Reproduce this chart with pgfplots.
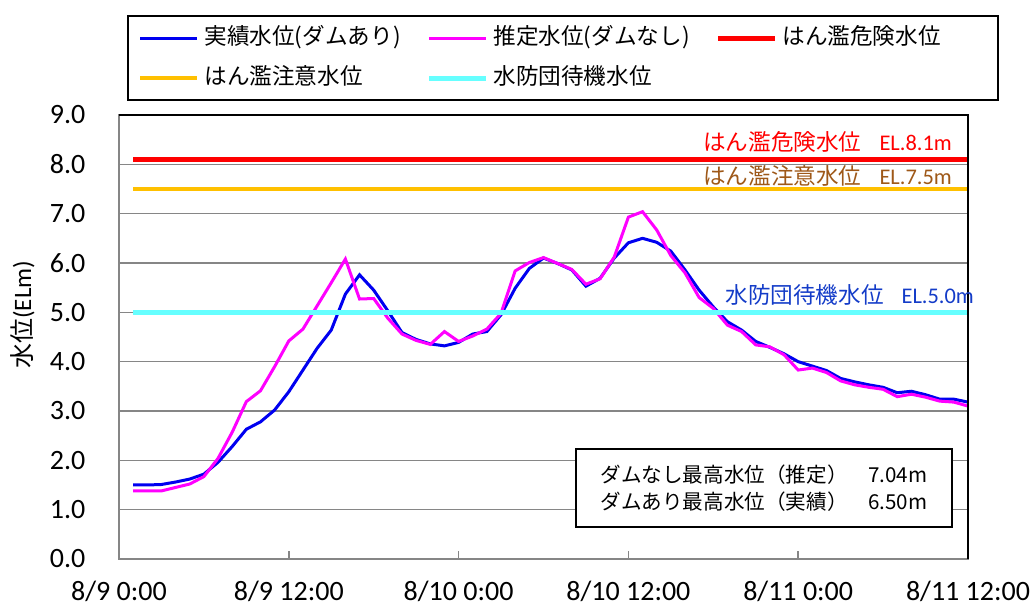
\documentclass[border=0pt]{standalone}
\usepackage{fontspec}
\setmainfont{Carlito}
\newfontfamily\jp{Noto Sans CJK JP}
\usepackage{pgfplots}
\pgfplotsset{compat=1.18}
\definecolor{cblue}{RGB}{0,0,240}
\definecolor{cmag}{RGB}{255,0,255}
\definecolor{cred}{RGB}{255,0,0}
\definecolor{corange}{RGB}{255,192,0}
\definecolor{ccyan}{RGB}{102,255,255}
\definecolor{cgrid}{RGB}{134,134,134}
\definecolor{tbrown}{RGB}{158,88,24}
\definecolor{tblue}{RGB}{20,60,200}
\begin{document}
\begin{tikzpicture}
\useasboundingbox (-59.5pt,-24.5pt) rectangle (458pt,279.5pt);
\begin{axis}[
  at={(0,0)}, anchor=south west,
  scale only axis, width=424.5pt, height=222pt,
  xmin=0, xmax=60, ymin=0, ymax=9,
  xtick={0,12,24,36,48,60},
  xticklabels={8/9 0:00,8/9 12:00,8/10 0:00,8/10 12:00,8/11 0:00,8/11 12:00},
  ytick={0,1,...,9},
  yticklabel={\pgfmathprintnumber[fixed,fixed zerofill,precision=1]{\tick}},
  /pgf/number format/assume math mode=true,
  tick label style={font=\fontsize{14}{16}\selectfont},
  xticklabel style={yshift=-7.5pt},
  yticklabel style={xshift=-13.3pt},
  xtick pos=bottom, ytick pos=left,
  tick align=inside,
  major tick length=4pt,
  xtick style={cgrid, line width=0.8pt},
  ytick style={draw=none},
  ymajorgrids,
  grid style={cgrid, line width=0.8pt},
  axis line style={cgrid, line width=0.8pt},
  ylabel={{\jp 水位}(ELm)},
  ylabel style={at={(axis description cs:-0.1137,0.55)}, anchor=center, font=\fontsize{12.5}{14}\selectfont},
  clip=false,
  legend columns=3,
  legend image code/.code={\draw[#1] (0pt,0pt) -- (28.5pt,0pt);},
  legend style={
    at={(axis description cs:0.0094,1.2252)}, anchor=north west,
    draw=black, line width=1pt, inner xsep=5pt, inner ysep=1pt,
    font=\jp\fontsize{11.3}{13}\selectfont,
    nodes={text width=100pt, align=left, inner xsep=2.5pt, text height=8.5pt, text depth=2.5pt, inner ysep=4.5pt},
    /tikz/every even column/.append style={column sep=8.5pt},
    cells={anchor=west},
  },
]
\addplot[cblue, line width=1.5pt] coordinates {
(1,1.50) (2,1.50) (3,1.51) (4,1.56) (5,1.62) (6,1.72) (7,1.96) (8,2.28) (9,2.63) (10,2.78)
(11,3.02) (12,3.39) (13,3.83) (14,4.27) (15,4.64) (16,5.37) (17,5.76) (18,5.45) (19,5.03) (20,4.59)
(21,4.45) (22,4.36) (23,4.32) (24,4.39) (25,4.56) (26,4.61) (27,4.95) (28,5.49) (29,5.89) (30,6.10)
(31,5.99) (32,5.86) (33,5.53) (34,5.69) (35,6.10) (36,6.41) (37,6.50) (38,6.42) (39,6.24) (40,5.86)
(41,5.45) (42,5.11) (43,4.81) (44,4.64) (45,4.41) (46,4.29) (47,4.16) (48,4.00) (49,3.91) (50,3.82)
(51,3.66) (52,3.59) (53,3.53) (54,3.48) (55,3.37) (56,3.40) (57,3.33) (58,3.24) (59,3.24) (60,3.18)
};
\addlegendentry{実績水位(ダムあり)}
\addplot[cmag, line width=1.5pt] coordinates {
(1,1.38) (2,1.38) (3,1.38) (4,1.45) (5,1.52) (6,1.67) (7,2.04) (8,2.57) (9,3.19) (10,3.41)
(11,3.90) (12,4.42) (13,4.66) (14,5.13) (15,5.60) (16,6.08) (17,5.27) (18,5.28) (19,4.88) (20,4.56)
(21,4.43) (22,4.35) (23,4.61) (24,4.41) (25,4.52) (26,4.66) (27,4.98) (28,5.84) (29,6.01) (30,6.11)
(31,5.99) (32,5.87) (33,5.57) (34,5.68) (35,6.12) (36,6.93) (37,7.04) (38,6.67) (39,6.15) (40,5.80)
(41,5.30) (42,5.08) (43,4.74) (44,4.61) (45,4.34) (46,4.30) (47,4.14) (48,3.83) (49,3.87) (50,3.78)
(51,3.61) (52,3.53) (53,3.48) (54,3.44) (55,3.29) (56,3.34) (57,3.28) (58,3.20) (59,3.18) (60,3.10)
};
\addlegendentry{推定水位(ダムなし)}
\addplot[cred, line width=2.5pt] coordinates {(1,8.1) (60,8.1)};
\addlegendentry{はん濫危険水位}
\addplot[corange, line width=2.3pt] coordinates {(1,7.5) (60,7.5)};
\addlegendentry{はん濫注意水位}
\addplot[ccyan, line width=2.5pt] coordinates {(1,5.0) (60,5.0)};
\addlegendentry{水防団待機水位}
\draw[black, line width=1pt] (rel axis cs:0,1) -- (rel axis cs:1,1) -- (rel axis cs:1,0);
\node[anchor=west, text=cred, inner sep=0pt] at (axis cs:41.27,8.45)
  {{\jp\fontsize{11.3}{13}\selectfont はん濫危険水位}\hspace{9pt}{\fontsize{11.2}{13}\selectfont EL.8.1m}};
\node[anchor=west, text=tbrown, inner sep=0pt] at (axis cs:41.27,7.76)
  {{\jp\fontsize{11.3}{13}\selectfont はん濫注意水位}\hspace{9pt}{\fontsize{11.2}{13}\selectfont EL.7.5m}};
\node[anchor=west, text=tblue, inner sep=0pt] at (axis cs:42.83,5.35)
  {{\jp\fontsize{11.3}{13}\selectfont 水防団待機水位}\hspace{9pt}{\fontsize{11.2}{13}\selectfont EL.5.0m}};
\node[draw=black, line width=1pt, fill=white, minimum width=188pt, minimum height=39pt, align=left,
  font=\jp\fontsize{10.3}{13.5}\selectfont] at (axis cs:45.58,1.44)
  {ダムなし最高水位（推定）　7.04m\\ダムあり最高水位（実績）　6.50m};
\end{axis}
\end{tikzpicture}
\end{document}
